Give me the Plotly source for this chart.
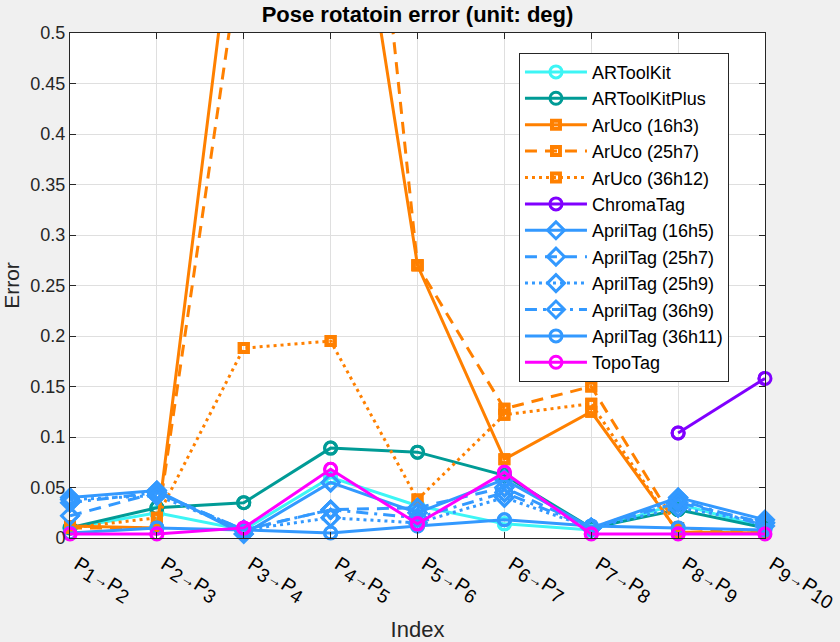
import numpy as np
import plotly.graph_objects as go

x_idx = [1, 2, 3, 4, 5, 6, 7, 8, 9]
tick_labels = ["P<sub><span style=\"font-size:19px\">%d</span></sub>"
               "<span style=\"font-size:15px\">→</span>"
               "P<sub><span style=\"font-size:19px\">%d</span></sub>" % (i, i + 1) for i in range(1, 10)]

artoolkit = [0.010, 0.025, 0.008, 0.060, 0.032, 0.014, 0.008, 0.034, 0.010]
artoolkitplus = [0.010, 0.030, 0.035, 0.089, 0.085, 0.062, 0.010, 0.028, 0.010]
aruco_16h3 = [0.012, 0.010, 0.700, 0.820, 0.270, 0.078, 0.125, 0.006, 0.005]
aruco_25h7 = [0.010, 0.010, 0.600, 1.090, 0.270, 0.128, 0.150, 0.010, 0.005]
aruco_36h12 = [0.010, 0.020, 0.188, 0.195, 0.038, 0.122, 0.133, 0.005, 0.005]
chromatag = [None, None, None, None, None, None, None, 0.104, 0.158]
april_16h5 = [0.040, 0.047, 0.004, 0.055, 0.025, 0.058, 0.010, 0.040, 0.018]
april_25h7 = [0.022, 0.045, 0.008, 0.028, 0.030, 0.050, 0.010, 0.035, 0.015]
april_25h9 = [0.038, 0.042, 0.008, 0.020, 0.015, 0.040, 0.010, 0.030, 0.015]
april_36h9 = [0.035, 0.045, 0.008, 0.028, 0.020, 0.045, 0.010, 0.038, 0.012]
april_36h11 = [0.005, 0.010, 0.008, 0.005, 0.012, 0.018, 0.012, 0.010, 0.008]
topotag = [0.004, 0.004, 0.010, 0.068, 0.014, 0.065, 0.004, 0.004, 0.004]

CYAN = "#3DF5F5"
TEAL = "#009B96"
ORANGE = "#FF8000"
PURPLE = "#8000FF"
BLUE = "#3399FF"
MAGENTA = "#FF00FF"

DASH = "12px,8px"
DOT = "3px,4px"
DASHDOT = "12px,6px,3px,6px"

series = [
    ("ARToolKit", artoolkit, CYAN, "solid", "circle-open", 12, 3),
    ("ARToolKitPlus", artoolkitplus, TEAL, "solid", "circle-open", 12, 3),
    ("ArUco (16h3)", aruco_16h3, ORANGE, "solid", "square-open", 8, 4),
    ("ArUco (25h7)", aruco_25h7, ORANGE, DASH, "square-open", 8, 4),
    ("ArUco (36h12)", aruco_36h12, ORANGE, DOT, "square-open", 8, 4),
    ("ChromaTag", chromatag, PURPLE, "solid", "circle-open", 12, 3),
    ("AprilTag (16h5)", april_16h5, BLUE, "solid", "diamond-open", 13, 3),
    ("AprilTag (25h7)", april_25h7, BLUE, DASH, "diamond-open", 13, 3),
    ("AprilTag (25h9)", april_25h9, BLUE, DOT, "diamond-open", 13, 3),
    ("AprilTag (36h9)", april_36h9, BLUE, DASHDOT, "diamond-open", 13, 3),
    ("AprilTag (36h11)", april_36h11, BLUE, "solid", "circle-open", 12, 3),
    ("TopoTag", topotag, MAGENTA, "solid", "circle-open", 12, 3),
]

YMAX = 0.5
fig = go.Figure()
for name, vals, color, dash, sym, size, mlw in series:
    fig.add_trace(go.Scatter(
        x=x_idx, y=vals, name=name, mode="lines+markers",
        line=dict(color=color, width=3, dash=dash),
        marker=dict(symbol=sym, size=size, color=color, line=dict(width=mlw, color=color)),
        cliponaxis=True,
    ))
    # unclipped markers for in-range points
    xs = [x for x, v in zip(x_idx, vals) if v is not None and v <= YMAX]
    ys = [v for v in vals if v is not None and v <= YMAX]
    fig.add_trace(go.Scatter(
        x=xs, y=ys, mode="markers", showlegend=False, hoverinfo="skip",
        marker=dict(symbol=sym, size=size, color=color, line=dict(width=mlw, color=color)),
        cliponaxis=False,
    ))

FONT = "Liberation Sans"
AX = "#262626"
fig.update_layout(
    width=840, height=642,
    margin=dict(l=70, r=75, t=33, b=104),
    paper_bgcolor="#F0F0F0", plot_bgcolor="white",
    font=dict(family=FONT, size=18, color=AX),
    title=dict(text="<b>Pose rotatoin error (unit: deg)</b>", x=(70 + 765) / 2 / 840, xanchor="center",
               y=1 - 14 / 642, yanchor="middle", font=dict(size=22, color="black")),
    showlegend=True,
    legend=dict(x=0.646, y=0.961, xanchor="left", yanchor="top",
                bgcolor="white", bordercolor=AX, borderwidth=1,
                font=dict(size=18, color="black"), itemwidth=62, tracegroupgap=0),
    xaxis=dict(
        range=[1, 9], tickvals=x_idx, ticktext=tick_labels, tickangle=32,
        showgrid=True, gridcolor="#DFDFDF", zeroline=False, automargin=False,
        showline=True, linecolor=AX, linewidth=1, mirror="ticks",
        ticks="inside", ticklen=6, tickcolor=AX,
        ticklabelstandoff=6, ticklabelshift=8,
        title=dict(text="Index", font=dict(size=22), standoff=22),
        tickfont=dict(size=20, color="black"),
    ),
    yaxis=dict(
        range=[0, YMAX], dtick=0.05, tickformat="~g", automargin=False,
        showgrid=True, gridcolor="#DFDFDF", zeroline=False,
        showline=True, linecolor=AX, linewidth=1, mirror="ticks",
        ticks="inside", ticklen=6, tickcolor=AX,
        title=dict(text="Error", font=dict(size=21), standoff=12),
        tickfont=dict(size=18, color=AX),
    ),
)

fig.write_html("out.html")
